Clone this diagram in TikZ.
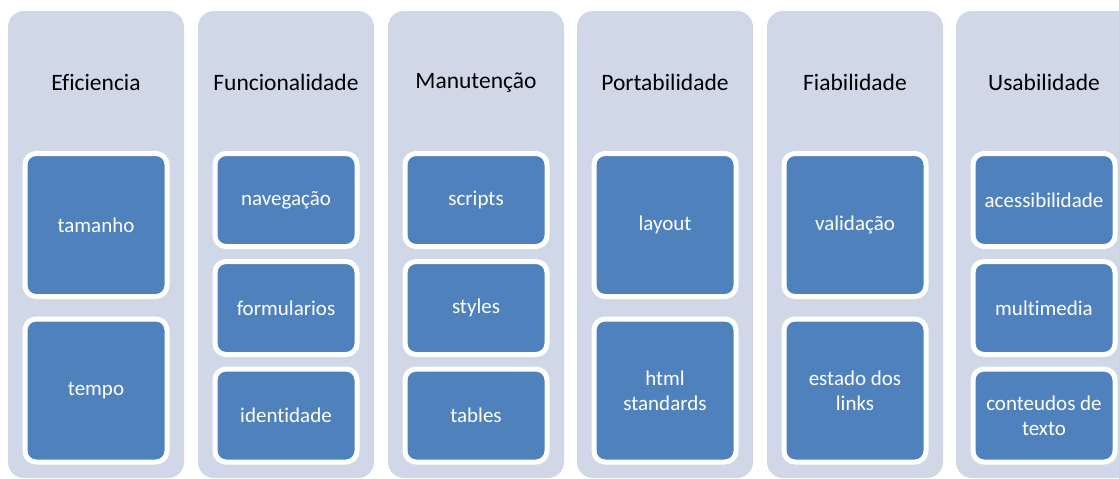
\documentclass[tikz,border=0pt]{standalone}
\usepackage{fontspec}
\setmainfont{Carlito}[Ligatures=NoCommon]
\usepackage{tikz}
\usetikzlibrary{positioning}
\colorlet{colbg}{rgb,255:red,208;green,216;blue,232}
\colorlet{itembg}{rgb,255:red,79;green,129;blue,189}
\tikzset{
  column/.style={fill=colbg,rounded corners=16pt,minimum width=176pt,minimum height=467pt,inner sep=0pt},
  title/.style={font=\fontsize{23.5}{28}\selectfont,text=black},
  item/.style={fill=itembg,draw=white,line width=5pt,rounded corners=11pt,minimum width=142pt,
    inner sep=0pt,align=center,text=white,font=\fontsize{21}{25}\selectfont},
  itembig/.style={item,minimum height=143pt},
  itemsmall/.style={item,minimum height=93pt}
}

\begin{document}
\begin{tikzpicture}[x=1pt,y=-1pt]
\useasboundingbox (0,0) rectangle (1119,479);
% columns
\node[column] (effcol) at (96,244.5){};  \node[title] (efftit) at (96,82.5){Eficiencia};
\node[column] (funcol) at (286,244.5){}; \node[title] (funtit) at (286,82.5){Funcionalidade};
\node[column] (mancol) at (476,244.5){}; \node[title] (mantit) at (476,82.5){Manutenção};
\node[column] (porcol) at (665,244.5){}; \node[title] (portit) at (665,82.5){Portabilidade};
\node[column] (fiacol) at (855,244.5){}; \node[title] (fiatit) at (855,82.5){Fiabilidade};
\node[column] (usacol) at (1044,244.5){};\node[title] (usatit) at (1044,82.5){Usabilidade};
% Eficiencia
\node[itembig] (tamanho) at (96,225){tamanho};
\node[itembig] (tempo) at (96,390.5){tempo};
% Funcionalidade
\node[itemsmall] (navegacao) at (286,200){navegação};
\node[itemsmall] (formularios) at (286,308){formularios};
\node[itemsmall] (identidade) at (286,415.5){identidade};
% Manutencao
\node[itemsmall] (scripts) at (476,200){scripts};
\node[itemsmall] (styles) at (476,308){styles};
\node[itemsmall] (tables) at (476,415.5){tables};
% Portabilidade
\node[itembig] (layout) at (665,225){layout};
\node[itembig] (html) at (665,390.5){html\\standards};
% Fiabilidade
\node[itembig] (validacao) at (855,225){validação};
\node[itembig] (links) at (855,390.5){estado dos\\links};
% Usabilidade
\node[itemsmall] (acess) at (1044,200){acessibilidade};
\node[itemsmall] (multimedia) at (1044,308){multimedia};
\node[itemsmall] (conteudos) at (1044,415.5){conteudos de\\texto};
\end{tikzpicture}
\end{document}
